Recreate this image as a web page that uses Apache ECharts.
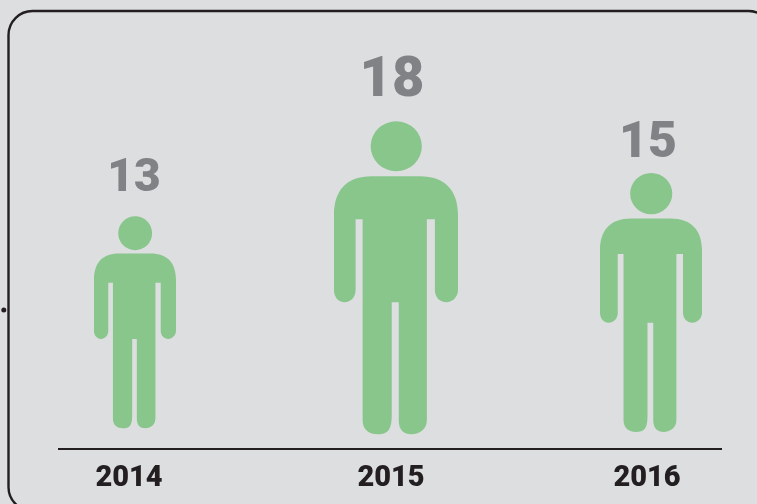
<!DOCTYPE html>
<html>
<head>
<meta charset="utf-8">
<style>
html,body{margin:0;padding:0;background:#dddee0;}
#main{width:757px;height:504px;}
</style>
</head>
<body>
<div id="main"></div>
<script src="https://cdn.jsdelivr.net/npm/echarts@6/dist/echarts.min.js"></script>
<script>
var years = ['2014', '2015', '2016'];
var counts = [13, 18, 15];

// how each figure and its number are drawn, by category
var figureSizes = [[82, 212], [124, 313], [102, 259]];
var figureOffsets = [[0, 3], [3, -1], [0, -4]];
var countFontSizes = [46, 56, 50];
var countOffsets = [[-1, -6], [-1, -6], [-3, 2]];
var yearPadding = [[0, 12, 0, 0], [0, 4, 0, 0], [0, 8, 0, 0]];

var person = 'path://M396.5 121A25.5 25 0 1 1 396.5 171A25.5 25 0 1 1 396.5 121Z' +
    'M396 176L420 176C445 176 458 190 458 215L458 290C458 297 452 302 446.5 302C440 302 435 297 435 290L435 219L427 219' +
    'L427 420C427 430 418 434 412 434C404 434 399 430 399 420L399 302L392 302L392 415C392 430 388 434 378 434C370 434 363 430 363 420' +
    'L363 219L356 219L356 290C356 297 351 302 345 302C339 302 334.5 297 334.5 290L334.5 215C334.5 190 347 176 372 176Z';

var myecharts = echarts.init(document.getElementById('main'));
var option = {
    backgroundColor: '#dddee0',
    animation: false,
    grid: {
        left: 6,
        width: 774,
        top: 13,
        bottom: 54,
        outerBoundsMode: 'none'
    },
    xAxis: {
        type: 'category',
        data: years.map(function (year, i) {
            return {value: year, textStyle: {padding: yearPadding[i]}};
        }),
        axisLine: {show: false},
        axisTick: {show: false},
        axisLabel: {
            color: '#231f20',
            fontFamily: 'Roboto',
            fontWeight: 900,
            fontSize: 29,
            margin: 14,
            interval: 0
        }
    },
    yAxis: {
        type: 'value',
        min: 0,
        max: 24,
        show: false
    },
    series: [
        {
            type: 'pictorialBar',
            symbol: person,
            symbolPosition: 'end',
            itemStyle: {color: '#88c68c'},
            data: counts.map(function (count, i) {
                return {
                    value: count,
                    symbolSize: figureSizes[i],
                    symbolOffset: figureOffsets[i],
                    label: {
                        show: true,
                        position: 'top',
                        color: '#808285',
                        fontFamily: 'Roboto',
                        fontWeight: 900,
                        fontSize: countFontSizes[i],
                        offset: countOffsets[i]
                    }
                };
            })
        }
    ],
    graphic: [
        {
            type: 'rect',
            shape: {x: 8.5, y: 11, width: 764, height: 500, r: 24},
            style: {fill: 'none', stroke: '#231f20', lineWidth: 2.4}
        },
        {
            type: 'line',
            shape: {x1: 58, y1: 449, x2: 722, y2: 449},
            style: {stroke: '#231f20', lineWidth: 2}
        },
        {
            type: 'circle',
            shape: {cx: 3.8, cy: 310, r: 2.5},
            style: {fill: '#231f20'}
        }
    ]
};
myecharts.setOption(option);
</script>
</body>
</html>
